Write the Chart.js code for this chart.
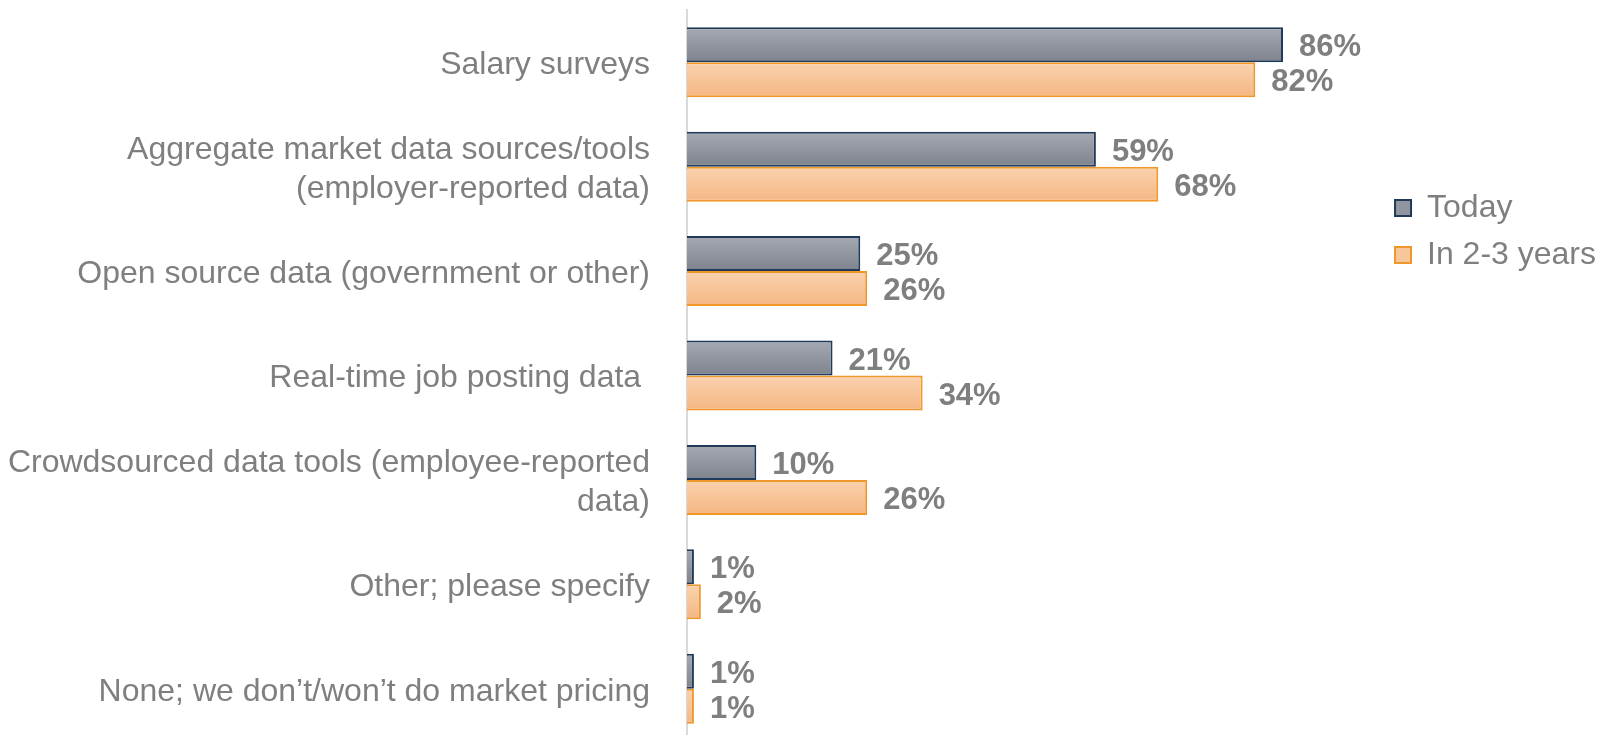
<!DOCTYPE html>
<html>
<head>
<meta charset="utf-8">
<script src="https://cdn.jsdelivr.net/npm/chart.js@4.4.1/dist/chart.umd.min.js"></script>
<style>
  html, body { margin: 0; padding: 0; background: #ffffff; overflow: hidden; }
  #wrap { position: relative; width: 1606px; height: 745px; }
</style>
</head>
<body>
<div id="wrap"><canvas id="c"></canvas></div>
<script>
// ---- data ----
const categories = [
  'Salary surveys',
  ['Aggregate market data sources/tools', '(employer-reported data)'],
  'Open source data (government or other)',
  'Real-time job posting data ',
  ['Crowdsourced data tools (employee-reported', 'data)'],
  'Other; please specify',
  'None; we don\u2019t/won\u2019t do market pricing'
];
const seriesNames = ['Today', 'In 2-3 years'];
const todayValues = [86, 59, 25, 21, 10, 1, 1];
const futureValues = [82, 68, 26, 34, 26, 2, 1];

// ---- styles ----
const gradStops = [['#a6aab3', '#7d828c'], ['#f9d2ae', '#f5b683']];
const solidFill = ['#9095a0', '#f7c69b'];
const borderCols = ['#1f3a5a', '#f0972c'];
const textGrey = '#7f7f7f';
const fontFam = '"Liberation Sans", Arial, sans-serif';

const barGradientPlugin = {
  id: 'barGradient',
  beforeDatasetsDraw(chart) {
    const ctx = chart.ctx;
    chart.data.datasets.forEach((ds, i) => {
      const meta = chart.getDatasetMeta(i);
      meta.data.forEach(el => {
        if (Object.isFrozen(el.options)) return;
        const p = el.getProps(['y', 'height'], true);
        const g = ctx.createLinearGradient(0, p.y - p.height / 2, 0, p.y + p.height / 2);
        g.addColorStop(0, gradStops[i][0]);
        g.addColorStop(1, gradStops[i][1]);
        el.options.backgroundColor = g;
      });
    });
  }
};

const valueLabelPlugin = {
  id: 'valueLabels',
  afterDatasetsDraw(chart) {
    const ctx = chart.ctx;
    ctx.save();
    ctx.font = 'bold 31px ' + fontFam;
    ctx.fillStyle = textGrey;
    ctx.textAlign = 'left';
    ctx.textBaseline = 'middle';
    chart.data.datasets.forEach((ds, i) => {
      const meta = chart.getDatasetMeta(i);
      meta.data.forEach((el, j) => {
        const p = el.getProps(['x', 'y'], true);
        ctx.fillText(ds.data[j] + '%', p.x + 16, p.y + 3);
      });
    });
    ctx.restore();
  }
};

new Chart(document.getElementById('c'), {
  type: 'bar',
  data: {
    labels: categories,
    datasets: [
      {
        label: seriesNames[0],
        data: todayValues,
        backgroundColor: () => solidFill[0],
        borderColor: borderCols[0],
        borderWidth: 2,
        barPercentage: 1,
        categoryPercentage: 0.67
      },
      {
        label: seriesNames[1],
        data: futureValues,
        backgroundColor: () => solidFill[1],
        borderColor: borderCols[1],
        borderWidth: 2,
        barPercentage: 1,
        categoryPercentage: 0.67
      }
    ]
  },
  options: {
    indexAxis: 'y',
    responsive: true,
    maintainAspectRatio: false,
    animation: false,
    layout: { padding: { top: 10, bottom: 4, left: 0, right: 0 } },
    scales: {
      x: { display: false, min: 0, max: 100 },
      y: {
        grid: { display: false },
        border: { display: true, color: '#d9d9d9', width: 2 },
        ticks: {
          autoSkip: false,
          color: textGrey,
          padding: 29,
          labelOffset: 3,
          font: { family: fontFam, size: 32, lineHeight: 1.22 }
        },
        afterFit(scale) {
          scale.width = 687;
          scale.paddingTop = 0;
          scale.paddingBottom = 0;
        }
      }
    },
    plugins: {
      tooltip: { enabled: false },
      legend: {
        position: 'right',
        align: 'start',
        title: { display: true, text: ' ', font: { size: 10 }, padding: { top: 155, bottom: 0 } },
        labels: {
          boxWidth: 16,
          boxHeight: 16,
          padding: 15,
          color: textGrey,
          font: { family: fontFam, size: 32 },
          generateLabels: (chart) => chart.data.datasets.map((ds, i) => ({
            text: ds.label,
            fillStyle: solidFill[i],
            strokeStyle: borderCols[i],
            lineWidth: 2,
            fontColor: textGrey,
            datasetIndex: i,
            hidden: false
          }))
        }
      }
    }
  },
  plugins: [barGradientPlugin, valueLabelPlugin]
});
</script>
</body>
</html>
